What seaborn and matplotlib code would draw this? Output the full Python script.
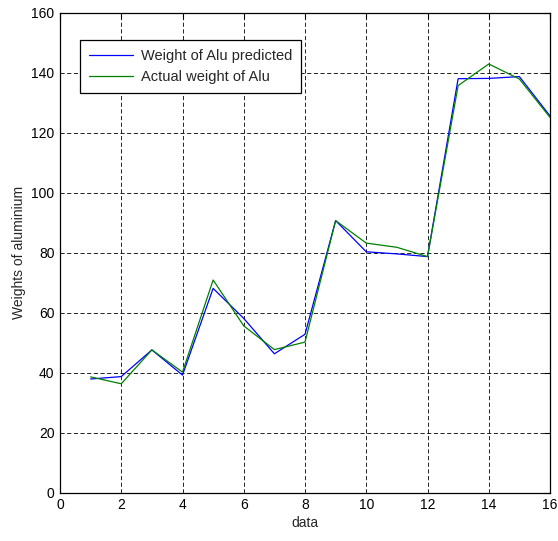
import matplotlib
matplotlib.use("Agg")
import matplotlib.pyplot as plt
import seaborn as sns
import pandas as pd

x_data = list(range(1, 17))
predicted = [37.9, 38.7, 47.6, 39.2, 68.1, 58.1, 46.3, 52.8, 90.7, 80.3, 79.6, 78.7, 138.0, 138.1, 138.7, 125.6]
actual = [38.6, 36.3, 47.6, 40.2, 70.9, 55.6, 47.7, 50.2, 90.7, 83.2, 81.8, 78.7, 135.7, 142.9, 137.9, 125.1]
series_names = ["Weight of Alu predicted", "Actual weight of Alu"]
x_ticks = list(range(0, 17, 2))
y_ticks = list(range(0, 161, 20))

sns.set_style("white")
plt.rcParams['font.family'] = ['Liberation Sans', 'DejaVu Sans']

df = pd.DataFrame({
    "x": x_data * 2,
    "y": predicted + actual,
    "series": [series_names[0]] * len(x_data) + [series_names[1]] * len(x_data),
})

fig = plt.figure(figsize=(5.58, 5.41), dpi=100)
ax = fig.add_axes([60/558, 48.3/541, 490/558, 480/541])

sns.lineplot(data=df, x="x", y="y", hue="series", hue_order=series_names,
             palette=["#0000ff", "#008000"], linewidth=0.9, ax=ax, legend=True)

ax.set_xlim(0, 16)
ax.set_ylim(0, 160)
ax.set_xticks(x_ticks)
ax.set_yticks(y_ticks)
ax.tick_params(direction="in", top=True, right=True, length=4, width=0.8,
               labelsize=10, colors="black", pad=4)
ax.grid(True, color="black", linestyle=(0, (5, 3)), linewidth=0.6)
for s in ax.spines.values():
    s.set_color("black")
    s.set_linewidth(0.9)
ax.set_xlabel("data", fontsize=10, labelpad=3)
ax.set_ylabel("Weights of aluminium", fontsize=10, labelpad=4)

leg = ax.legend(loc="upper left", bbox_to_anchor=(0.041, 0.943), fontsize=10.5,
                frameon=True, fancybox=False, handlelength=3.0, borderpad=0.6,
                labelspacing=0.5, handletextpad=0.6, borderaxespad=0)
leg.get_frame().set_edgecolor("black")
leg.get_frame().set_linewidth(0.9)
leg.get_frame().set_alpha(1)
for line in leg.get_lines():
    line.set_linewidth(0.9)

fig.savefig("out.png", dpi=100)
